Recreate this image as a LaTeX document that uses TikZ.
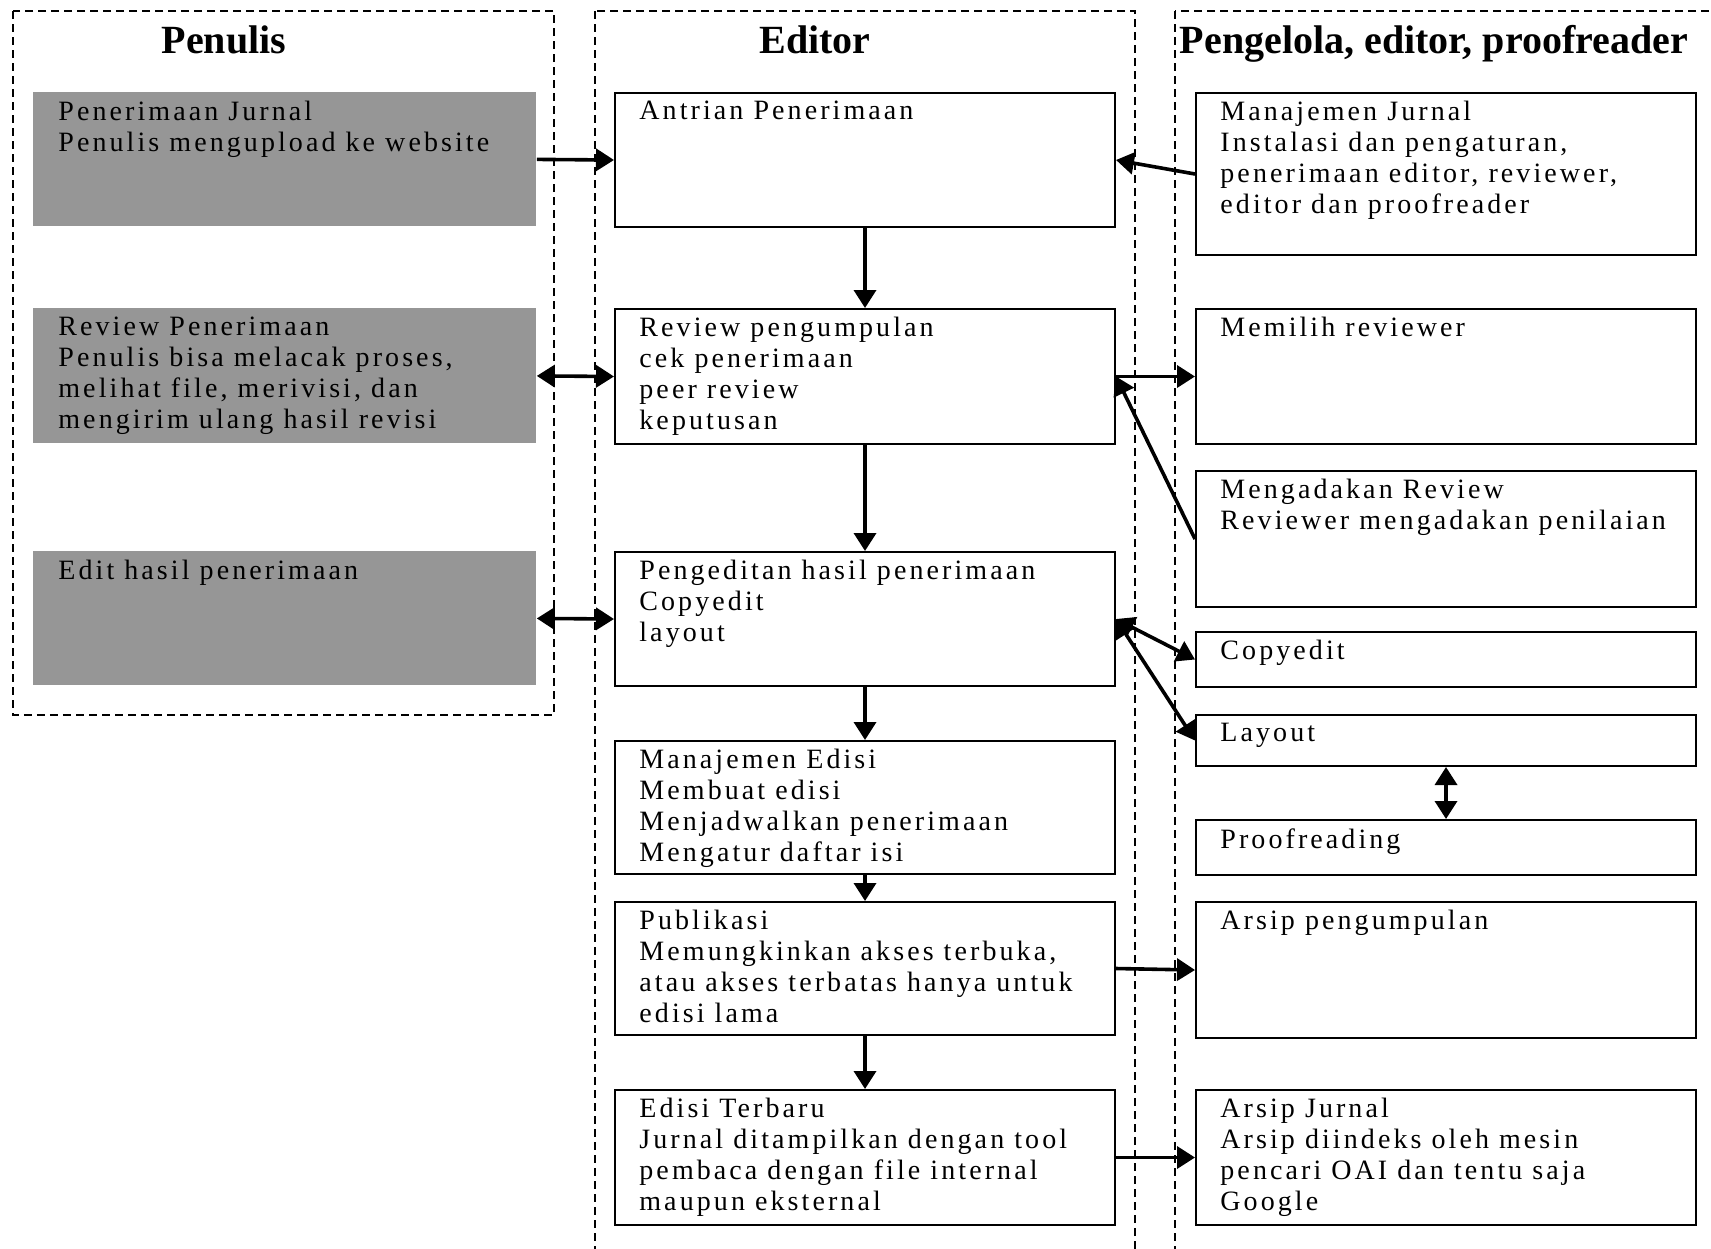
\documentclass[tikz,border=0pt]{standalone}
\usepackage{fontspec}
\setmainfont{Liberation Serif}
\newfontfamily\bodyfont{Liberation Serif}[LetterSpace=11]
\usetikzlibrary{arrows.meta}
\definecolor{boxgrey}{RGB}{150,150,150}
\begin{document}
\begin{tikzpicture}[x=0.5pt,y=-0.5pt,
 col/.style={draw,dash pattern=on 4pt off 2.5pt,line width=0.6pt},
 head/.style={anchor=base,font=\fontsize{20}{22}\selectfont\bfseries},
 box/.style={draw,line width=1pt,anchor=north west,inner sep=0,minimum width=250pt},
 greybox/.style={fill=boxgrey,anchor=north west,inner sep=0,minimum width=251.5pt},
 txt/.style={anchor=north west,align=left,inner sep=0,xshift=12.5pt,yshift=-4.5pt,
  font=\bodyfont\fontsize{14}{15.4}\selectfont},
 arr/.style={-{Triangle[length=9pt,width=11pt]},line width=1.8pt},
 dbl/.style={{Triangle[length=9pt,width=11pt]}-{Triangle[length=9pt,width=11pt]},line width=1.8pt}]
 \useasboundingbox (0,0) rectangle (1711,1248);
 \draw[col] (13,11) rectangle (554,715);
 \draw[col] (595,11) rectangle (1135,1270);
 \draw[col] (1175,11) rectangle (1730,1270);
 \node[head] (hpenulis) at (224,53) {Penulis};
 \node[head] (heditor) at (815,53) {Editor};
 \node[head] (hpengelola) at (1434,53) {Pengelola, editor, proofreader};
 \node[greybox,minimum height=67pt,label={[txt]north west:{Penerimaan Jurnal\\Penulis mengupload ke website}}] (g1) at (33,92) {};
 \node[greybox,minimum height=67.5pt,label={[txt]north west:{Review Penerimaan\\Penulis bisa melacak proses,\\melihat file, merivisi, dan\\mengirim ulang hasil revisi}}] (g2) at (33,308) {};
 \node[greybox,minimum height=67pt,label={[txt]north west:{Edit hasil penerimaan}}] (g3) at (33,551) {};
 \node[box,minimum height=67pt,label={[txt]north west:{Antrian Penerimaan}}] (e1) at (614,92) {};
 \node[box,minimum height=67.5pt,label={[txt]north west:{Review pengumpulan\\cek penerimaan\\peer review\\keputusan}}] (e2) at (614,308) {};
 \node[box,minimum height=67pt,label={[txt]north west:{Pengeditan hasil penerimaan\\Copyedit\\layout}}] (e3) at (614,551) {};
 \node[box,minimum height=66.5pt,label={[txt]north west:{Manajemen Edisi\\Membuat edisi\\Menjadwalkan penerimaan\\Mengatur daftar isi}}] (e4) at (614,740) {};
 \node[box,minimum height=66.5pt,label={[txt]north west:{Publikasi\\Memungkinkan akses terbuka,\\atau akses terbatas hanya untuk\\edisi lama}}] (e5) at (614,901) {};
 \node[box,minimum height=67.5pt,label={[txt]north west:{Edisi Terbaru\\Jurnal ditampilkan dengan tool\\pembaca dengan file internal\\maupun eksternal}}] (e6) at (614,1089) {};
 \node[box,minimum height=81pt,label={[txt]north west:{Manajemen Jurnal\\Instalasi dan pengaturan,\\penerimaan editor, reviewer,\\editor dan proofreader}}] (r1) at (1195,92) {};
 \node[box,minimum height=67.5pt,label={[txt]north west:{Memilih reviewer}}] (r2) at (1195,308) {};
 \node[box,minimum height=68pt,label={[txt]north west:{Mengadakan Review\\Reviewer mengadakan penilaian}}] (r3) at (1195,470) {};
 \node[box,minimum height=27.5pt,label={[txt]north west:{Copyedit}}] (r4) at (1195,631) {};
 \node[box,minimum height=25.5pt,label={[txt]north west:{Layout}}] (r5) at (1195,714) {};
 \node[box,minimum height=27.5pt,label={[txt]north west:{Proofreading}}] (r6) at (1195,819) {};
 \node[box,minimum height=68pt,label={[txt]north west:{Arsip pengumpulan}}] (r7) at (1195,901) {};
 \node[box,minimum height=67.5pt,label={[txt]north west:{Arsip Jurnal\\Arsip diindeks oleh mesin\\pencari OAI dan tentu saja\\Google}}] (r8) at (1195,1089) {};
 \draw[arr] (g1.east) -- (e1.west);
 \draw[arr] (r1.west) -- (e1.east);
 \draw[arr] (e1.south) -- (e2.north);
 \draw[dbl] (g2.east) -- (e2.west);
 \draw[arr] (e2.east) -- (r2.west);
 \draw[arr] (r3.west) -- (e2.east);
 \draw[arr] (e2.south) -- (e3.north);
 \draw[dbl] (g3.east) -- (e3.west);
 \draw[dbl] (e3.east) -- (r4.west);
 \draw[dbl] (e3.east) -- (r5.west);
 \draw[dbl] (r5.south) -- (r6.north);
 \draw[arr] (e3.south) -- (e4.north);
 \draw[arr] (e4.south) -- (e5.north);
 \draw[arr] (e5.east) -- (r7.west);
 \draw[arr] (e5.south) -- (e6.north);
 \draw[arr] (e6.east) -- (r8.west);
\end{tikzpicture}
\end{document}
